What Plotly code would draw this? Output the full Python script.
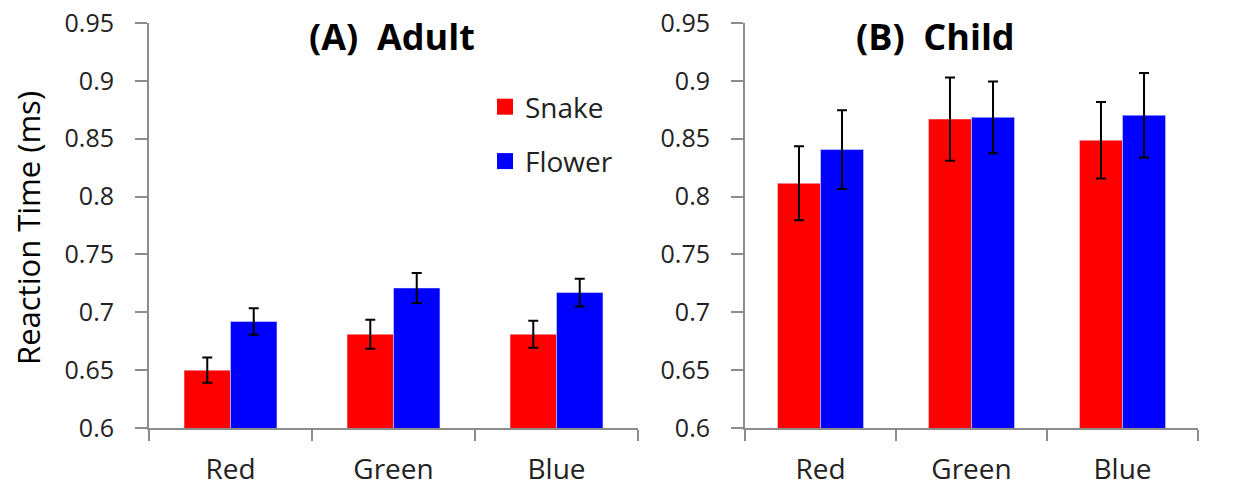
import plotly.graph_objects as go

categories = ["Red", "Green", "Blue"]
adult_snake = [0.650, 0.681, 0.681]
adult_snake_err = [0.011, 0.0125, 0.0117]
adult_flower = [0.692, 0.721, 0.717]
adult_flower_err = [0.0115, 0.013, 0.012]
child_snake = [0.8115, 0.867, 0.8487]
child_snake_err = [0.032, 0.036, 0.033]
child_flower = [0.8406, 0.8685, 0.8703]
child_flower_err = [0.034, 0.031, 0.0365]
y_ticks = [0.6, 0.65, 0.7, 0.75, 0.8, 0.85, 0.9, 0.95]
y_ticktext = ["0.6", "0.65", "0.7", "0.75", "0.8", "0.85", "0.9", "0.95"]

RED = "#FF0000"
BLUE = "#0000FF"
AXC = "#8C8C8C"
FONT = "Open Sans"
W, H = 1244, 490

fig = go.Figure()

def err(arr):
    return dict(type="data", array=arr, visible=True, color="black", thickness=2, width=5)

fig.add_trace(go.Bar(x=categories, y=adult_snake, error_y=err(adult_snake_err), marker_color=RED,
                     name="Snake", showlegend=False, xaxis="x", yaxis="y"))
fig.add_trace(go.Bar(x=categories, y=adult_flower, error_y=err(adult_flower_err), marker_color=BLUE,
                     name="Flower", showlegend=False, xaxis="x", yaxis="y"))
fig.add_trace(go.Bar(x=categories, y=child_snake, error_y=err(child_snake_err), marker_color=RED,
                     name="Snake", showlegend=False, xaxis="x2", yaxis="y2"))
fig.add_trace(go.Bar(x=categories, y=child_flower, error_y=err(child_flower_err), marker_color=BLUE,
                     name="Flower", showlegend=False, xaxis="x2", yaxis="y2"))

# legend entries
fig.add_trace(go.Scatter(x=[None], y=[None], mode="markers", name="Snake", legendgroup="s",
                         marker=dict(symbol="square", size=18, color=RED), xaxis="x", yaxis="y"))
fig.add_trace(go.Scatter(x=[None], y=[None], mode="markers", name="Flower", legendgroup="f",
                         marker=dict(symbol="square", size=18, color=BLUE), xaxis="x", yaxis="y"))

ydom = [(H - 428) / H, (H - 23) / H]

xax = dict(type="category", range=[-0.5, 2.5], showline=True, linecolor=AXC, linewidth=2,
           ticks="outside", tickson="boundaries", ticklen=11, tickwidth=2, tickcolor=AXC,
           tickfont=dict(family=FONT, size=28, color="#222"), showgrid=False, zeroline=False,
           ticklabelstandoff=15, automargin=False, fixedrange=True)
yax = dict(range=[0.6, 0.95], tickvals=y_ticks, ticktext=y_ticktext, showline=True, linecolor=AXC,
           linewidth=2, ticks="outside", ticklen=12, tickwidth=2, tickcolor=AXC,
           tickfont=dict(family=FONT, size=25, color="#222"), showgrid=False, zeroline=False,
           ticklabelstandoff=16, domain=ydom, automargin=False)

fig.update_layout(
    width=W, height=H,
    margin=dict(l=0, r=0, t=0, b=0, autoexpand=False),
    paper_bgcolor="white", plot_bgcolor="white",
    barmode="group", bargap=0.43, bargroupgap=0,
    xaxis=dict(xax, domain=[149 / W, 638 / W], anchor="y"),
    yaxis=dict(yax, anchor="x"),
    xaxis2=dict(xax, domain=[745 / W, 1198 / W], anchor="y2"),
    yaxis2=dict(yax, anchor="x2"),
    legend=dict(x=485 / W, y=(H - 82) / H, xanchor="left", yanchor="top",
                font=dict(family=FONT, size=28, color="#222"), tracegroupgap=15,
                itemsizing="trace", bgcolor="rgba(0,0,0,0)"),
    annotations=[
        dict(text="<b>(A)\u00a0 Adult</b>", x=392 / W, y=(H - 36) / H, xref="paper", yref="paper",
             xanchor="center", yanchor="middle",
             showarrow=False, font=dict(family=FONT, size=36, color="black")),
        dict(text="<b>(B)\u00a0 Child</b>", x=935 / W, y=(H - 36) / H, xref="paper", yref="paper",
             xanchor="center", yanchor="middle",
             showarrow=False, font=dict(family=FONT, size=36, color="black")),
        dict(text="Reaction Time (ms)", x=28 / W, y=(H - 228) / H, xref="paper", yref="paper",
             xanchor="center", yanchor="middle",
             textangle=-90, showarrow=False, font=dict(family=FONT, size=31, color="black")),
    ],
)

fig.write_html("out.html", config={"displayModeBar": False},
               post_script="document.body.style.margin='0';document.body.style.overflow='hidden';")
